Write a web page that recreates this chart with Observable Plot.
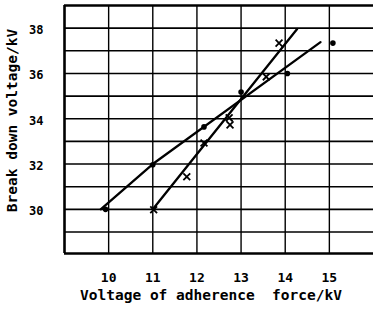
<!DOCTYPE html>
<html><head>
<meta charset="utf-8">
<script src="https://cdn.jsdelivr.net/npm/d3@7"></script>
<script src="https://cdn.jsdelivr.net/npm/@observablehq/plot@0.6"></script>
<style>body{margin:0;background:#fff}</style>
</head><body><div id="chart"></div>
<script>
const xDomain = [9, 16];
const yDomain = [28.05, 39.0];
const xTicks = [10, 11, 12, 13, 14, 15];
const yTicks = [30, 32, 34, 36, 38];
const xGrid = [10, 11, 12, 13, 14, 15];
const yGrid = [29, 30, 31, 32, 33, 34, 35, 36, 37, 38];
// measured points (dots)
const dotX = [9.93, 11.0, 12.16, 13.0, 14.05, 15.08];
const dotY = [30.0, 31.97, 33.64, 35.18, 36.0, 37.34];
// measured points (crosses)
const crossX = [11.02, 11.77, 12.16, 12.73, 12.75, 13.57, 13.86];
const crossY = [29.98, 31.44, 32.93, 34.04, 33.73, 35.85, 37.34];
// drawn lines
const line1X = [9.82, 11.0, 14.8];
const line1Y = [30.0, 32.0, 37.38];
const line2X = [11.0, 14.27];
const line2Y = [30.0, 37.96];
const xLabel = "Voltage of adherence\u00a0 force/kV";
const yLabel = "Break down voltage/kV";

const dots = dotX.map((x, i) => ({x, y: dotY[i]}));
const crosses = crossX.map((x, i) => ({x, y: crossY[i]}));
const l1 = line1X.map((x, i) => ({x, y: line1Y[i]}));
const l2 = line2X.map((x, i) => ({x, y: line2Y[i]}));

const plot = Plot.plot({
  width: 373, height: 314,
  marginTop: 5, marginBottom: 61, marginLeft: 64, marginRight: 0,
  x: {domain: xDomain},
  y: {domain: yDomain},
  style: {fontFamily: "DejaVu Sans Mono", fontWeight: "bold", background: "#fff", color: "#000"},
  marks: [
    Plot.ruleX(xGrid, {stroke: "#000", strokeWidth: 1.4}),
    Plot.ruleY(yGrid, {stroke: "#000", strokeWidth: 1.6}),
    Plot.ruleX([xDomain[0]], {stroke: "#000", strokeWidth: 2.6}),
    Plot.ruleY(yDomain, {stroke: "#000", strokeWidth: 2.6}),
    Plot.line(l1, {x: "x", y: "y", stroke: "#000", strokeWidth: 2.3}),
    Plot.line(l2, {x: "x", y: "y", stroke: "#000", strokeWidth: 2.3}),
    Plot.dot(dots, {x: "x", y: "y", r: 2.8, fill: "#000"}),
    Plot.dot(crosses, {x: "x", y: "y", symbol: "times", r: 3.2, stroke: "#000", strokeWidth: 1.8}),
    Plot.axisX({ticks: xTicks, tickSize: 0, tickPadding: 19, fontSize: 13, label: null, tickFormat: "d"}),
    Plot.axisY({ticks: yTicks, tickSize: 0, tickPadding: 21, fontSize: 12, label: null, dy: 2, tickFormat: "d"}),
    Plot.text([yLabel], {frameAnchor: "left", textAnchor: "middle", rotate: -90, dx: -52, dy: -9, fontSize: 14.5, fill: "#000"}),
    Plot.text([xLabel], {frameAnchor: "bottom", textAnchor: "middle", dx: -8, dy: 46, fontSize: 14.5, fill: "#000"})
  ]
});
document.getElementById("chart").append(plot);
</script>
</body></html>
